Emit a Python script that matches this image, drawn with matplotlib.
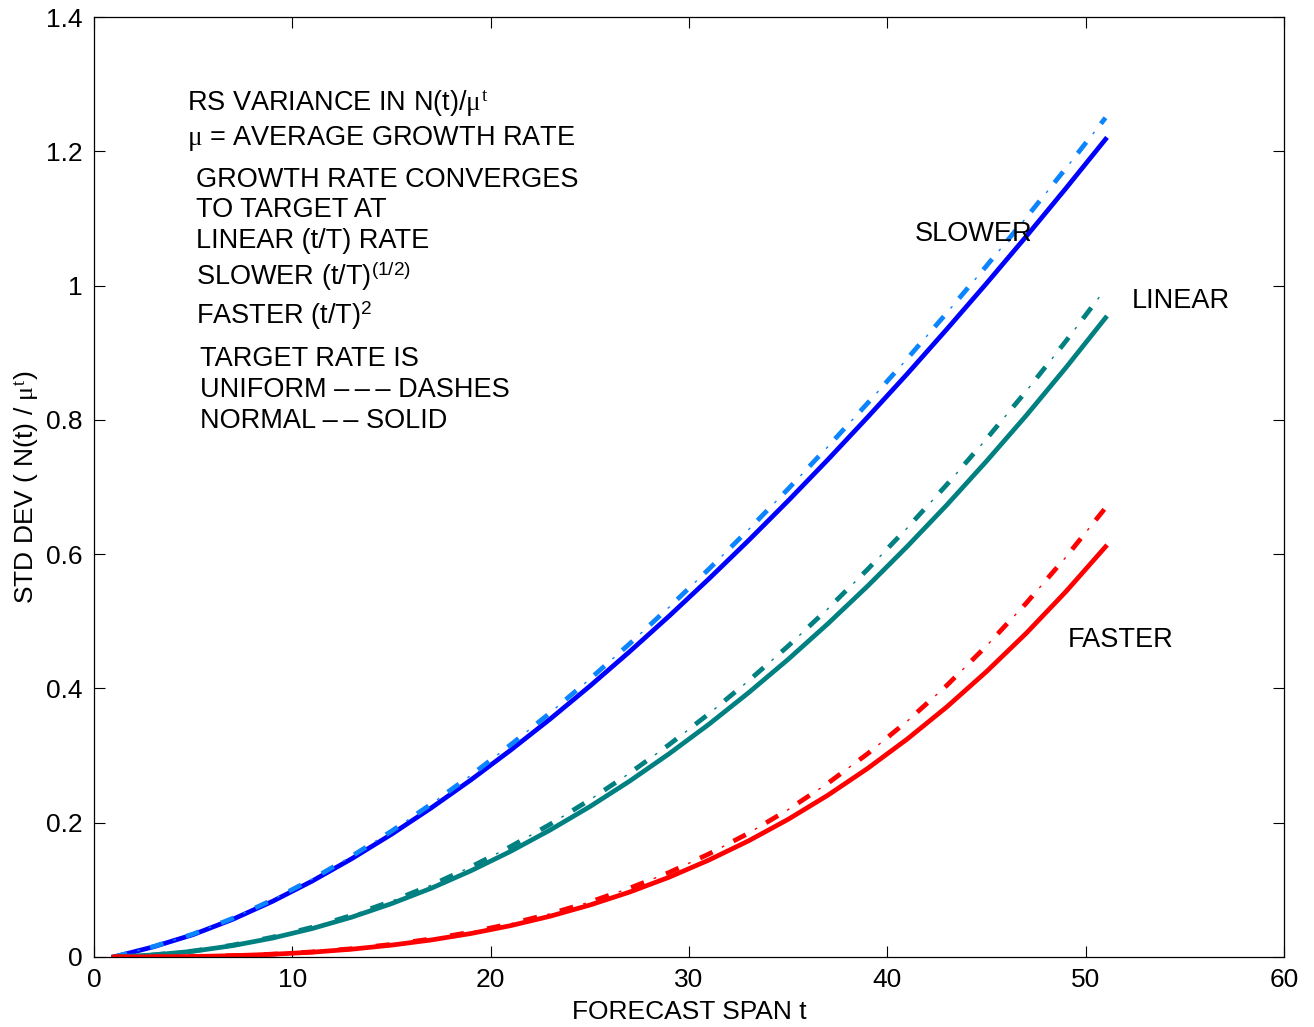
import matplotlib.pyplot as plt

plt.rcParams['font.family'] = ['Liberation Sans', 'DejaVu Sans']
plt.rcParams['mathtext.fontset'] = 'custom'
plt.rcParams['mathtext.rm'] = 'Liberation Sans'
plt.rcParams['mathtext.it'] = 'Liberation Serif'
plt.rcParams['lines.scale_dashes'] = False

# forecast span
t = [1, 3, 5, 7, 9, 11, 13, 15, 17, 19, 21, 23, 25,
     27, 29, 31, 33, 35, 37, 39, 41, 43, 45, 47, 49, 51]

# slower convergence (t/T)^(1/2)
slower_normal = [0.0, 0.0151, 0.0333, 0.0561, 0.0828, 0.1130, 0.1464, 0.1827, 0.2219,
                 0.2636, 0.3079, 0.3544, 0.4034, 0.4546, 0.5078, 0.5631, 0.6203, 0.6795,
                 0.7407, 0.8038, 0.8684, 0.9351, 1.0033, 1.0732, 1.1448, 1.218]
slower_uniform = [0.0, 0.0155, 0.0342, 0.0576, 0.0850, 0.1159, 0.1502, 0.1874, 0.2277,
                  0.2705, 0.3159, 0.3636, 0.4139, 0.4664, 0.5210, 0.5777, 0.6364, 0.6972,
                  0.7600, 0.8247, 0.8910, 0.9594, 1.0294, 1.1011, 1.1746, 1.250]

# linear convergence (t/T)
linear_normal = [0.0, 0.0030, 0.0085, 0.0169, 0.0281, 0.0423, 0.0593, 0.0794, 0.1023,
                 0.1283, 0.1572, 0.1891, 0.2239, 0.2618, 0.3027, 0.3465, 0.3935, 0.4433,
                 0.4963, 0.5523, 0.6114, 0.6733, 0.7385, 0.8064, 0.8777, 0.952]
linear_uniform = [0.0, 0.0031, 0.0089, 0.0177, 0.0294, 0.0442, 0.0620, 0.0830, 0.1069,
                  0.1341, 0.1643, 0.1976, 0.2340, 0.2736, 0.3163, 0.3621, 0.4112, 0.4632,
                  0.5186, 0.5772, 0.6389, 0.7036, 0.7717, 0.8427, 0.9172, 0.995]

# faster convergence (t/T)^2
faster_normal = [0.0, 0.0002, 0.0007, 0.0019, 0.0040, 0.0071, 0.0116, 0.0176, 0.0253,
                 0.0349, 0.0466, 0.0607, 0.0773, 0.0966, 0.1188, 0.1443, 0.1729, 0.2050,
                 0.2409, 0.2807, 0.3245, 0.3725, 0.4251, 0.4821, 0.5441, 0.611]
faster_uniform = [0.0, 0.0002, 0.0007, 0.0020, 0.0042, 0.0075, 0.0123, 0.0187, 0.0268,
                  0.0370, 0.0494, 0.0643, 0.0819, 0.1024, 0.1259, 0.1534, 0.1843, 0.2194,
                  0.2587, 0.3026, 0.3511, 0.4045, 0.4634, 0.5269, 0.5955, 0.669]

y_ticks = [0, 0.2, 0.4, 0.6, 0.8, 1.0, 1.2, 1.4]
y_tick_labels = ['0', '0.2', '0.4', '0.6', '0.8', '1', '1.2', '1.4']
x_ticks = [0, 10, 20, 30, 40, 50, 60]

LW = 3.4


def uniform_line(ax, x, y, color):
    # thick dashes, with a short tick centred in every gap
    ax.plot(x, y, color=color, lw=LW, linestyle=(0, (10, 17)), dash_capstyle='butt')
    ax.plot(x, y, color=color, lw=1.0, linestyle=(9.5, (2, 25)), dash_capstyle='butt')


def main() -> None:
    fig = plt.figure(figsize=(13.14, 10.27), dpi=100)
    ax = fig.add_axes([0.0715, 0.0682, 0.9057, 0.9152])

    ax.plot(t, slower_normal, color='#0000ff', lw=LW)
    uniform_line(ax, t, slower_uniform, '#0a84ff')
    ax.plot(t, linear_normal, color='#008080', lw=LW)
    uniform_line(ax, t, linear_uniform, '#008080')
    ax.plot(t, faster_normal, color='#ff0000', lw=LW)
    uniform_line(ax, t, faster_uniform, '#ff0000')

    ax.set_xlim(0, 60)
    ax.set_ylim(0, 1.4)
    ax.set_xticks(x_ticks)
    ax.set_yticks(y_ticks)
    ax.set_yticklabels(y_tick_labels)
    ax.tick_params(direction='in', length=8, width=0.8, top=True, right=True,
                   labelsize=19, pad=8)
    for s in ax.spines.values():
        s.set_linewidth(0.9)

    ax.set_xlabel('FORECAST SPAN t', fontsize=19, labelpad=6)
    ax.set_ylabel(r'STD DEV ( N(t) / $\mu^{t}$)', fontsize=19, labelpad=4)

    fs = 19.5
    notes = [
        (4.7, 1.270, r'RS VARIANCE IN N(t)/$\mu^{t}$'),
        (4.7, 1.219, r'$\mu$ = AVERAGE GROWTH RATE'),
        (5.15, 1.158, 'GROWTH RATE CONVERGES'),
        (5.15, 1.112, 'TO TARGET AT'),
        (5.15, 1.066, 'LINEAR (t/T) RATE'),
        (5.15, 1.014, r'SLOWER (t/T)$^{(1/2)}$'),
        (5.15, 0.955, r'FASTER (t/T)$^{2}$'),
        (5.35, 0.891, 'TARGET RATE IS'),
        (5.35, 0.845, 'UNIFORM \u2013\u2009\u2013\u2009\u2013 DASHES'),
        (5.35, 0.798, 'NORMAL \u2013\u2009\u2013 SOLID'),
    ]
    for x, y, s in notes:
        ax.text(x, y, s, fontsize=fs, va='center', ha='left')

    ax.text(41.4, 1.077, 'SLOWER', fontsize=fs, va='center')
    ax.text(52.3, 0.977, 'LINEAR', fontsize=fs, va='center')
    ax.text(49.1, 0.472, 'FASTER', fontsize=fs, va='center')

    plt.savefig('out.png', dpi=100)


if __name__ == "__main__":
    main()
